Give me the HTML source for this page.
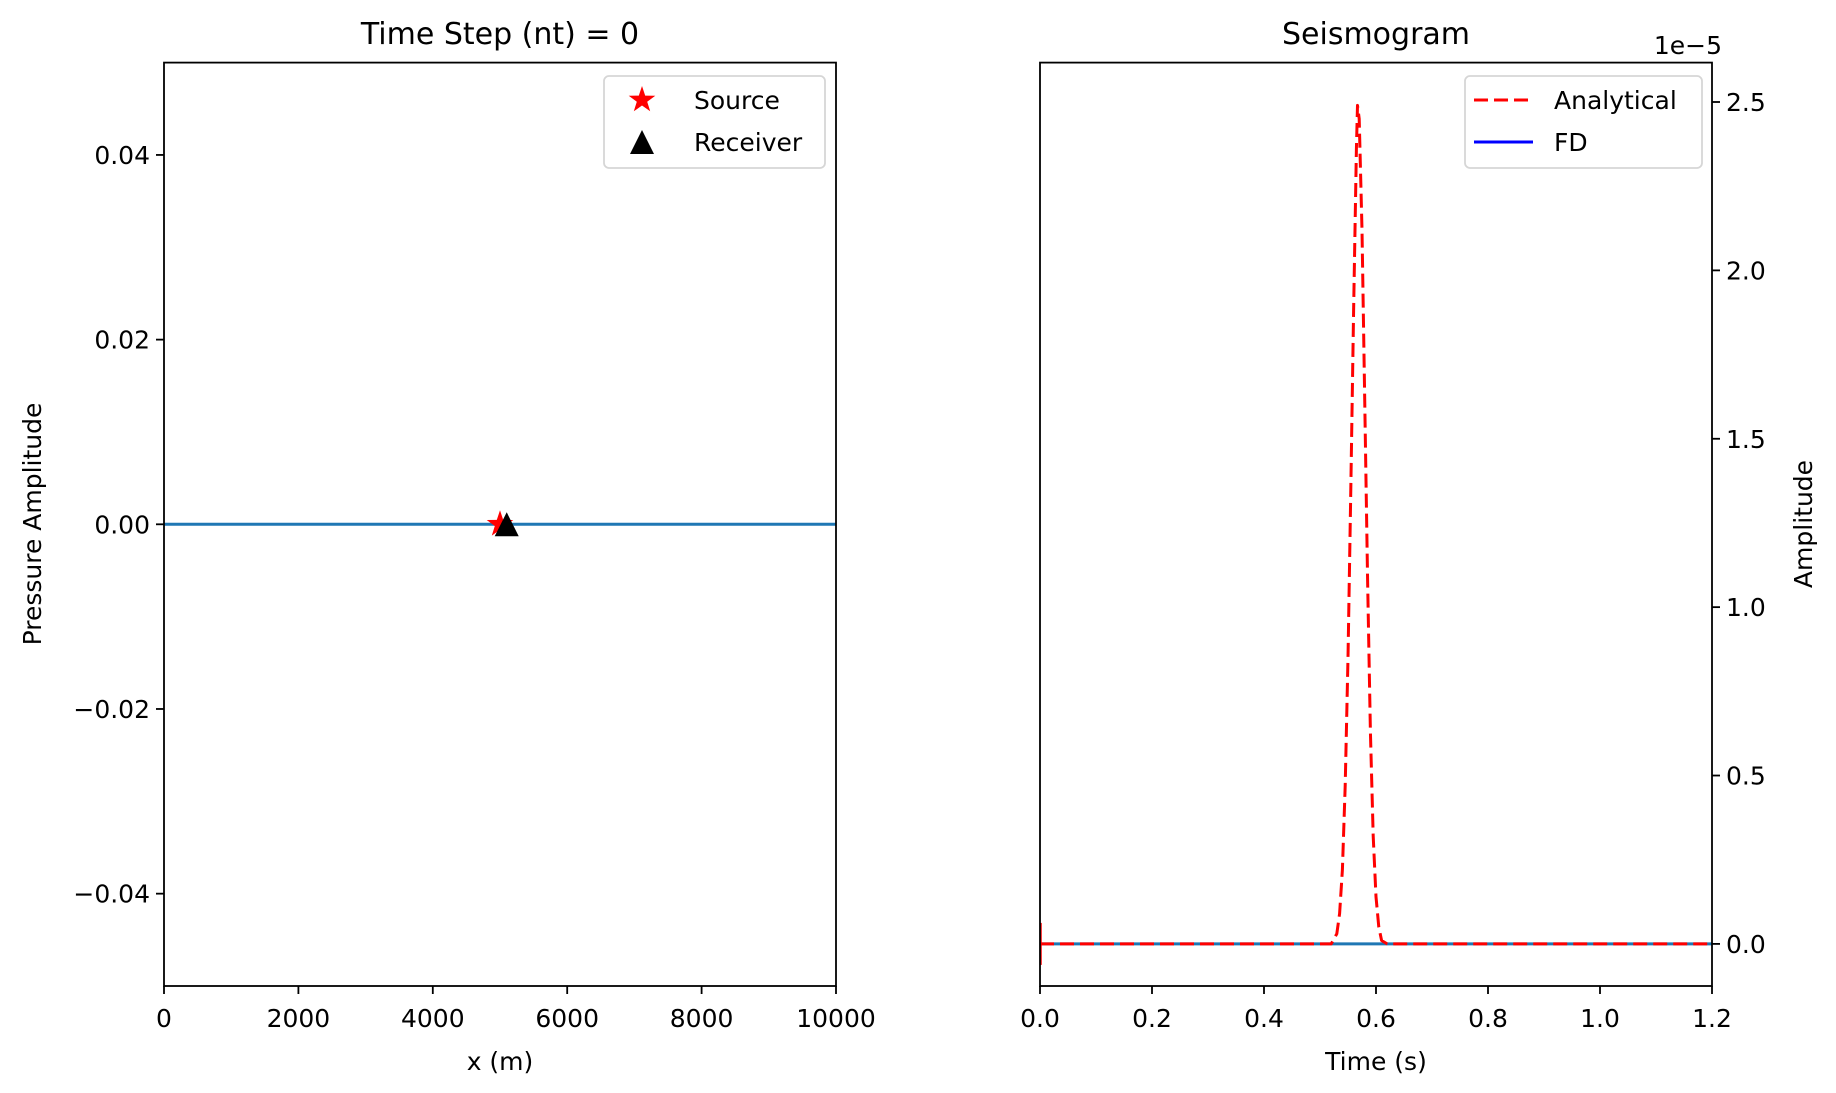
<!DOCTYPE html>
<html><head><meta charset="utf-8"><style>
body{margin:0;background:#fff;}
svg{display:block;font-family:"DejaVu Sans","Liberation Sans",sans-serif;}
</style></head><body>
<svg id="fig" width="1836" height="1093" viewBox="0 0 1836 1093" xmlns="http://www.w3.org/2000/svg">
<rect width="1836" height="1093" fill="#fff"/>
<g id="left"></g>
<g id="right"></g>
</svg>
<script>
// Left panel data
const xTicks = [0, 2000, 4000, 6000, 8000, 10000];
const yTicksL = [-0.04, -0.02, 0.00, 0.02, 0.04];
const yTickLabelsL = ["\u22120.04", "\u22120.02", "0.00", "0.02", "0.04"];
const waveX = [0, 10000];
const waveP = [0, 0];
const sourcePos = [5000, 0];
const receiverPos = [5100, 0];
// Right panel data
const tTicks = [0.0, 0.2, 0.4, 0.6, 0.8, 1.0, 1.2];
const tTickLabels = ["0.0", "0.2", "0.4", "0.6", "0.8", "1.0", "1.2"];
const yTicksR = [0.0, 0.5, 1.0, 1.5, 2.0, 2.5];
const analyticT = [0, 0.52, 0.53, 0.535, 0.54, 0.545, 0.55, 0.555, 0.56, 0.565, 0.567, 0.57, 0.575, 0.58, 0.585, 0.59, 0.595, 0.6, 0.605, 0.61, 0.62, 1.2];
const analyticA = [0, 0, 0.03, 0.09, 0.22, 0.47, 0.85, 1.35, 1.88, 2.36, 2.49, 2.45, 2.12, 1.6, 1.08, 0.63, 0.32, 0.14, 0.05, 0.01, 0, 0];
const fdT = [0, 1.2];
const fdA = [0, 0];

const NS = "http://www.w3.org/2000/svg";
function mk(parent, tag, attrs, text) {
  const e = document.createElementNS(NS, tag);
  for (const k in attrs) e.setAttribute(k, attrs[k]);
  if (text !== undefined) e.textContent = text;
  parent.appendChild(e);
  return e;
}
const FS = 25;
const L = document.getElementById('left');
const R = document.getElementById('right');

// Left axes
const lx0 = 164, lx1 = 836, ly0 = 62.6, ly1 = 986;
const sxL = v => lx0 + (v - 0) / 10000 * (lx1 - lx0);
const syL = v => ly1 - (v + 0.05) / 0.1 * (ly1 - ly0);

let t = mk(L, 'text', {x: 500, y: 44, 'font-size': 30, 'text-anchor': 'middle'}, 'Time Step (nt) = 0');



let wl = mk(L, 'polyline', {points: waveX.map((v, i) => sxL(v) + ',' + syL(waveP[i])).join(' '), fill: 'none', stroke: '#1f77b4', 'stroke-width': 3});



// star
function starPts(cx, cy, ro, ri) {
  let p = [];
  for (let i = 0; i < 10; i++) {
    const a = -Math.PI / 2 + i * Math.PI / 5;
    const r = i % 2 ? ri : ro;
    p.push((cx + r * Math.cos(a)).toFixed(1) + ',' + (cy + r * Math.sin(a)).toFixed(1));
  }
  return p.join(' ');
}
let st = mk(L, 'polygon', {points: starPts(sxL(sourcePos[0]), syL(sourcePos[1]), 14, 5.5), fill: '#ff0000'});


const rx = sxL(receiverPos[0]), ry = syL(receiverPos[1]);
let tr = mk(L, 'polygon', {points: `${rx},${ry - 12} ${rx - 12},${ry + 12} ${rx + 12},${ry + 12}`, fill: '#000'});



let fr = mk(L, 'rect', {x: lx0, y: ly0, width: lx1 - lx0, height: ly1 - ly0, fill: 'none', stroke: '#000', 'stroke-width': 1.8});



xTicks.forEach(v => {
  const x = sxL(v);
  mk(L, 'line', {x1: x, y1: ly1, x2: x, y2: ly1 + 8, stroke: '#000', 'stroke-width': 1.8});
  let e = mk(L, 'text', {x: x, y: ly1 + 41, 'font-size': FS, 'text-anchor': 'middle'}, String(v));
  
  
});
yTicksL.forEach((v, i) => {
  const y = syL(v);
  mk(L, 'line', {x1: lx0, y1: y, x2: lx0 - 8, y2: y, stroke: '#000', 'stroke-width': 1.8});
  let e = mk(L, 'text', {x: lx0 - 14, y: y + 9, 'font-size': FS, 'text-anchor': 'end'}, yTickLabelsL[i]);
  
  
});
t = mk(L, 'text', {x: 500, y: 1070, 'font-size': FS, 'text-anchor': 'middle'}, 'x (m)');


t = mk(L, 'text', {x: 0, y: 0, 'font-size': FS, 'text-anchor': 'middle', transform: 'translate(41,524) rotate(-90)'}, 'Pressure Amplitude');



// left legend
let lg = mk(L, 'g', {});


mk(lg, 'rect', {x: 604, y: 76, width: 221, height: 92, rx: 5, fill: '#fff', stroke: '#d6d6d6', 'stroke-width': 1.8});
mk(lg, 'polygon', {points: starPts(642, 100, 14, 5.5), fill: '#ff0000'});
mk(lg, 'polygon', {points: '642,130 630,154 654,154', fill: '#000'});
let le = mk(lg, 'text', {x: 694, y: 109, 'font-size': FS}, 'Source');


le = mk(lg, 'text', {x: 694, y: 151, 'font-size': FS}, 'Receiver');



// Right axes
const rx0 = 1040, rx1 = 1712, ry0 = 62.6, ry1 = 986;
const sxR = v => rx0 + v / 1.2 * (rx1 - rx0);
const yMin = -0.125, yMax = 2.617;
const syR = v => ry1 - (v - yMin) / (yMax - yMin) * (ry1 - ry0);

t = mk(R, 'text', {x: 1376, y: 44, 'font-size': 30, 'text-anchor': 'middle'}, 'Seismogram');


t = mk(R, 'text', {x: 1722, y: 54, 'font-size': FS, 'text-anchor': 'end'}, '1e\u22125');



let fd = mk(R, 'polyline', {points: fdT.map((v, i) => sxR(v) + ',' + syR(fdA[i])).join(' '), fill: 'none', stroke: '#1f77b4', 'stroke-width': 3});


let an = mk(R, 'polyline', {points: analyticT.map((v, i) => sxR(v).toFixed(1) + ',' + syR(analyticA[i]).toFixed(1)).join(' '), fill: 'none', stroke: '#ff0000', 'stroke-width': 3, 'stroke-dasharray': '14,6', 'stroke-linejoin': 'round'});


let vl = mk(R, 'line', {x1: rx0 + 1, y1: syR(0) - 21, x2: rx0 + 1, y2: syR(0) + 21, stroke: '#ff0000', 'stroke-width': 1.5});



fr = mk(R, 'rect', {x: rx0, y: ry0, width: rx1 - rx0, height: ry1 - ry0, fill: 'none', stroke: '#000', 'stroke-width': 1.8});



tTicks.forEach((v, i) => {
  const x = sxR(v);
  mk(R, 'line', {x1: x, y1: ry1, x2: x, y2: ry1 + 8, stroke: '#000', 'stroke-width': 1.8});
  let e = mk(R, 'text', {x: x, y: ry1 + 41, 'font-size': FS, 'text-anchor': 'middle'}, tTickLabels[i]);
  
  
});
yTicksR.forEach(v => {
  const y = syR(v);
  mk(R, 'line', {x1: rx1, y1: y, x2: rx1 + 8, y2: y, stroke: '#000', 'stroke-width': 1.8});
  let e = mk(R, 'text', {x: rx1 + 14, y: y + 9, 'font-size': FS}, v.toFixed(1));
  
  
});
t = mk(R, 'text', {x: 1376, y: 1070, 'font-size': FS, 'text-anchor': 'middle'}, 'Time (s)');


t = mk(R, 'text', {x: 0, y: 0, 'font-size': FS, 'text-anchor': 'middle', transform: 'translate(1812,524) rotate(-90)'}, 'Amplitude');



// right legend
let rg = mk(R, 'g', {});


mk(rg, 'rect', {x: 1465, y: 76, width: 237, height: 92, rx: 5, fill: '#fff', stroke: '#d6d6d6', 'stroke-width': 1.8});
mk(rg, 'line', {x1: 1474, y1: 100, x2: 1533, y2: 100, stroke: '#ff0000', 'stroke-width': 3, 'stroke-dasharray': '14,6'});
mk(rg, 'line', {x1: 1474, y1: 142, x2: 1533, y2: 142, stroke: '#0000ff', 'stroke-width': 3});
le = mk(rg, 'text', {x: 1554, y: 109, 'font-size': FS}, 'Analytical');


le = mk(rg, 'text', {x: 1554, y: 151, 'font-size': FS}, 'FD');


</script>
</body></html>
